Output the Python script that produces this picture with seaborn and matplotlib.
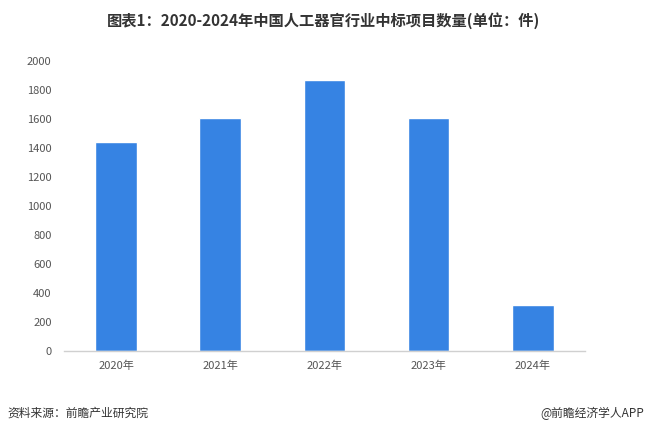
import pandas as pd
import matplotlib.pyplot as plt
import seaborn as sns

# 数据
years = ["2020年", "2021年", "2022年", "2023年", "2024年"]
counts = [1440, 1610, 1870, 1605, 315]

df = pd.DataFrame({"year": years, "count": counts})

sns.set_style("white")
plt.rcParams['font.family'] = ['Noto Sans CJK SC', 'DejaVu Sans']

fig = plt.figure(figsize=(6.47, 4.34), dpi=100)
ax = fig.add_axes([0.099, 0.191, 0.805, 0.668])

sns.barplot(x="year", y="count", data=df, color="#3683E3", width=0.4,
            saturation=1, ax=ax)

ax.set_ylim(0, 2000)
ax.set_yticks(range(0, 2001, 200))
ax.set_xlabel("")
ax.set_ylabel("")
ax.tick_params(axis="y", colors="#555555", labelsize=8, length=0, pad=9)
ax.tick_params(axis="x", colors="#555555", labelsize=8, length=0, pad=7)
for s in ["top", "right", "left"]:
    ax.spines[s].set_visible(False)
ax.spines["bottom"].set_color("#d0d0d0")
ax.spines["bottom"].set_linewidth(1)

fig.text(0.5, 0.953, "图表1：2020-2024年中国人工器官行业中标项目数量(单位：件)",
         ha="center", va="center", fontsize=11, fontweight="bold", color="#333333")
fig.text(0.012, 0.048, "资料来源：前瞻产业研究院", ha="left", va="center",
         fontsize=8.5, color="#333333")
fig.text(0.995, 0.048, "@前瞻经济学人APP", ha="right", va="center",
         fontsize=8.5, color="#333333")

fig.savefig("out.png", dpi=100)
